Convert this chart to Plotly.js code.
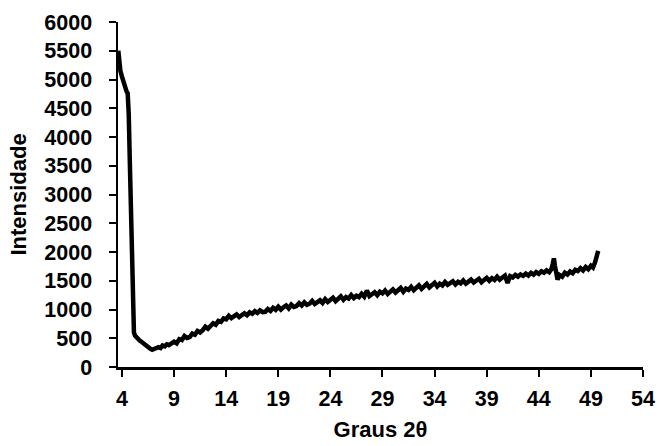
<!DOCTYPE html>
<html>
<head>
<meta charset="utf-8">
<script src="https://cdn.plot.ly/plotly-3.0.1.min.js"></script>
<style>html,body{margin:0;padding:0;background:#fff;}#chart{width:659px;height:446px;}</style>
</head>
<body>
<div id="chart"></div>
<script>
// Angle 2θ (degrees)
const twoTheta = [
  3.65, 3.75, 3.85, 4.0, 4.15, 4.3, 4.45, 4.55, 4.65, 4.75, 4.85, 4.95, 5.02, 5.08, 5.15, 5.25, 5.4, 5.55, 5.7,
  5.9, 6.1, 6.3, 6.5, 6.7, 6.9, 7.1, 7.3, 7.5, 7.7, 7.9, 8.1, 8.3, 8.5, 8.75,
  9.0, 9.25, 9.5, 9.75, 10.0, 10.25, 10.5, 10.75, 11.0, 11.25, 11.5, 11.75, 12.0, 12.25, 12.5, 12.75,
  13.0, 13.25, 13.5, 13.75, 14.0, 14.25, 14.5, 14.75, 15.0, 15.25, 15.5, 15.75, 16.0, 16.25, 16.5, 16.75,
  17.0, 17.25, 17.5, 17.75, 18.0, 18.25, 18.5, 18.75, 19.0, 19.25, 19.5, 19.75, 20.0, 20.25, 20.5, 20.75,
  21.0, 21.25, 21.5, 21.75, 22.0, 22.25, 22.5, 22.75, 23.0, 23.25, 23.5, 23.75, 24.0, 24.25, 24.5, 24.75,
  25.0, 25.25, 25.5, 25.75, 26.0, 26.25, 26.5, 26.75, 27.0, 27.25, 27.5, 27.75, 28.0, 28.25, 28.5, 28.75,
  29.0, 29.25, 29.5, 29.75, 30.0, 30.25, 30.5, 30.75, 31.0, 31.25, 31.5, 31.75, 32.0, 32.25, 32.5, 32.75,
  33.0, 33.25, 33.5, 33.75, 34.0, 34.25, 34.5, 34.75, 35.0, 35.25, 35.5, 35.75, 36.0, 36.25, 36.5, 36.75,
  37.0, 37.25, 37.5, 37.75, 38.0, 38.25, 38.5, 38.75, 39.0, 39.25, 39.5, 39.75, 40.0, 40.25, 40.5, 40.75,
  41.0, 41.25, 41.5, 41.75, 42.0, 42.25, 42.5, 42.75, 43.0, 43.25, 43.5, 43.75, 44.0, 44.25, 44.5, 44.75,
  45.0, 45.2, 45.35, 45.45, 45.55, 45.7, 45.8, 46.0, 46.25, 46.5, 46.75, 47.0, 47.25, 47.5, 47.75,
  48.0, 48.25, 48.5, 48.75, 49.0, 49.2, 49.4, 49.55, 49.7
];
// Intensity (counts)
const intensidade = [
  5500, 5300, 5150, 5050, 4950, 4830, 4790, 4760, 4400, 3600, 2800, 1800, 1000, 700, 600, 545, 510, 485, 460,
  435, 400, 365, 340, 320, 300, 310, 330, 345, 330, 375, 360, 395, 380, 420,
  440, 410, 485, 470, 540, 505, 520, 580, 560, 625, 600, 640, 700, 665, 720, 760,
  735, 800, 785, 845, 830, 890, 850, 880, 915, 870, 905, 935, 900, 950, 925, 970,
  940, 985, 955, 960, 1010, 975, 1030, 995, 1050, 1000, 1040, 1070, 1020, 1085, 1045, 1060,
  1110, 1070, 1125, 1080, 1100, 1150, 1095, 1140, 1160, 1115, 1180, 1130, 1170, 1205, 1145, 1190,
  1230, 1170, 1215, 1190, 1250, 1200, 1240, 1215, 1275, 1225, 1330, 1235, 1270, 1300, 1250, 1310,
  1280, 1330, 1270, 1320, 1350, 1295, 1340, 1375, 1310, 1365, 1340, 1395, 1335, 1380, 1420, 1360,
  1400, 1445, 1385, 1430, 1465, 1400, 1450, 1420, 1480, 1430, 1460, 1490, 1435, 1480, 1455, 1505,
  1450, 1495, 1520, 1470, 1500, 1535, 1475, 1520, 1550, 1500, 1545, 1515, 1570, 1520, 1560, 1590,
  1460, 1580, 1555, 1600, 1570, 1610, 1585, 1625, 1590, 1635, 1605, 1650, 1620, 1665, 1640, 1680,
  1650, 1700, 1800, 1890, 1760, 1600, 1520, 1600, 1570, 1640, 1610, 1660, 1630, 1690, 1670,
  1720, 1680, 1740, 1700, 1760, 1730, 1820, 1900, 2020
];
const xTicks = [4, 9, 14, 19, 24, 29, 34, 39, 44, 49, 54];
const yTicks = [0, 500, 1000, 1500, 2000, 2500, 3000, 3500, 4000, 4500, 5000, 5500, 6000];
const xTitle = 'Graus 2θ';
const yTitle = 'Intensidade';

const font = {family: '"Liberation Sans", Arial, sans-serif', size: 21.5, color: '#000', weight: 'bold'};
const titleFont = {family: font.family, size: 22, color: '#000', weight: 'bold'};

Plotly.newPlot('chart', [{
  x: twoTheta, y: intensidade, type: 'scatter', mode: 'lines',
  line: {color: '#000', width: 4.5}, hoverinfo: 'none', showlegend: false
}], {
  width: 659, height: 446,
  margin: {l: 118, r: 16, t: 22, b: 79},
  paper_bgcolor: '#fff', plot_bgcolor: '#fff',
  font: font,
  xaxis: {
    range: [3.62, 54], tickmode: 'array', tickvals: xTicks, ticktext: xTicks.map(String),
    showgrid: false, zeroline: false, showline: true, linecolor: '#000', linewidth: 2.5,
    ticks: 'outside', ticklen: 7, tickwidth: 2, tickcolor: '#000',
    tickfont: font, ticklabelstandoff: 4,
    title: {text: xTitle, font: titleFont, standoff: 12},
    automargin: false, fixedrange: true
  },
  yaxis: {
    range: [0, 6000], tickmode: 'array', tickvals: yTicks, ticktext: yTicks.map(String),
    showgrid: false, zeroline: false, showline: true, linecolor: '#000', linewidth: 2.5,
    ticks: 'outside', ticklen: 7, tickwidth: 2, tickcolor: '#000',
    tickfont: font, ticklabelstandoff: 12,
    title: {text: yTitle, font: titleFont, standoff: 12},
    automargin: false, fixedrange: true
  }
}, {displayModeBar: false, staticPlot: true});
</script>
</body>
</html>
